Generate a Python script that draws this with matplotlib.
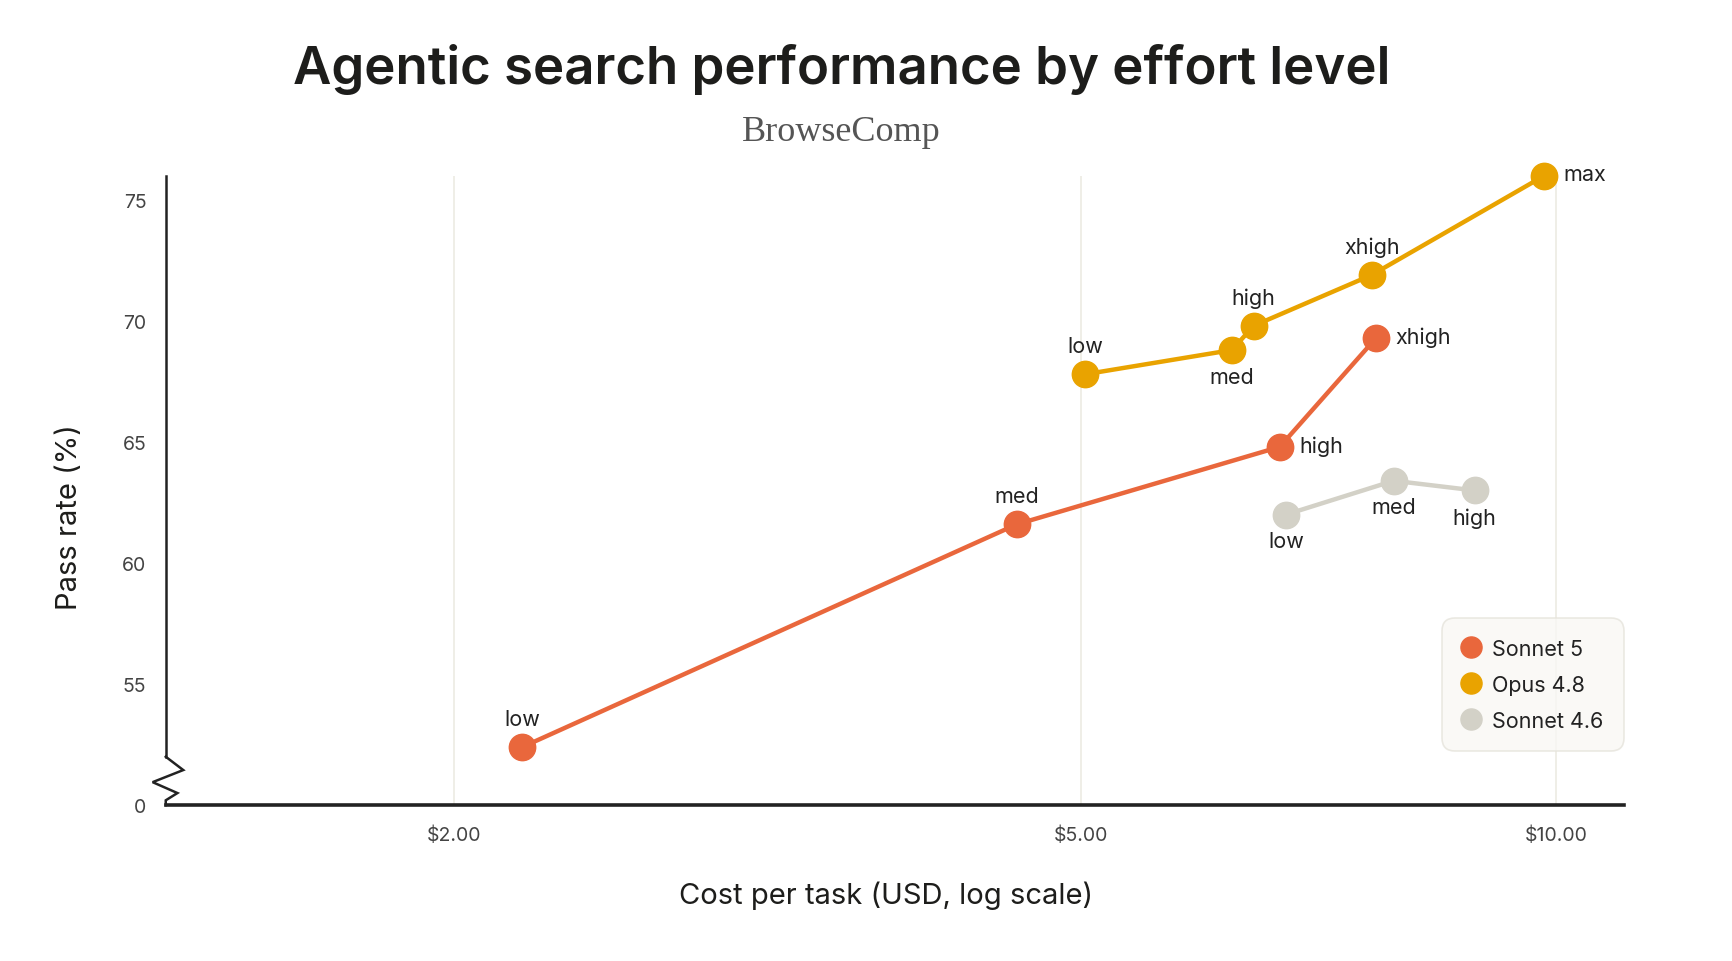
import matplotlib
matplotlib.use("Agg")
import matplotlib.pyplot as plt
from matplotlib.ticker import FixedLocator, NullLocator

plt.rcParams["font.family"] = ["Inter", "DejaVu Sans"]

# effort levels and readings (cost per task in USD, pass rate in %)
sonnet5_levels = ["low", "med", "high", "xhigh"]
sonnet5_cost = [2.21, 4.55, 6.68, 7.69]
sonnet5_pass = [52.4, 61.6, 64.8, 69.3]

opus48_levels = ["low", "med", "high", "xhigh", "max"]
opus48_cost = [5.03, 6.23, 6.43, 7.64, 9.83]
opus48_pass = [67.8, 68.8, 69.8, 71.9, 76.0]

sonnet46_levels = ["low", "med", "high"]
sonnet46_cost = [6.74, 7.89, 8.88]
sonnet46_pass = [62.0, 63.4, 63.0]

x_ticks = [2, 5, 10]
x_tick_labels = ["$2.00", "$5.00", "$10.00"]
y_ticks = [50, 55, 60, 65, 70, 75]
y_tick_labels = ["0", "55", "60", "65", "70", "75"]

C_SONNET5 = "#E9673C"
C_OPUS = "#E9A300"
C_SONNET46 = "#D3D1C7"
INK = "#1d1d1b"

# where each point label goes: "above", "below" or "right"
sonnet5_pos = ["above", "above", "right", "right"]
opus48_pos = ["above", "below", "above", "above", "right"]
sonnet46_pos = ["below", "below", "below"]

fig = plt.figure(figsize=(17.32, 9.62), dpi=100)
ax = fig.add_axes([0.0957, 0.162, 0.8418, 0.6543])

series = [
    ("Sonnet 5", sonnet5_cost, sonnet5_pass, sonnet5_levels, sonnet5_pos, C_SONNET5),
    ("Opus 4.8", opus48_cost, opus48_pass, opus48_levels, opus48_pos, C_OPUS),
    ("Sonnet 4.6", sonnet46_cost, sonnet46_pass, sonnet46_levels, sonnet46_pos, C_SONNET46),
]

for name, xs, ys, levels, pos, color in series:
    ax.plot(xs, ys, color=color, lw=3.2, marker="o", markersize=19,
            solid_capstyle="round", label=name, clip_on=False, zorder=3)
    for x, y, lab, where in zip(xs, ys, levels, pos):
        if where == "right":
            off, ha, va = (14, 1), "left", "center"
        elif where == "above":
            off, ha, va = (0, 13), "center", "bottom"
        else:
            off, ha, va = (0, -12), "center", "top"
        ax.annotate(lab, (x, y), xytext=off, textcoords="offset points",
                    ha=ha, va=va, fontsize=15.5, color="#222222", zorder=4)

ax.set_xscale("log")
ax.set_xlim(1.313, 11.04)
ax.set_ylim(50, 76)
ax.xaxis.set_major_locator(FixedLocator(x_ticks))
ax.xaxis.set_minor_locator(NullLocator())
ax.set_xticklabels(x_tick_labels)
ax.set_yticks(y_ticks)
ax.set_yticklabels(y_tick_labels)
ax.tick_params(axis="both", length=0, labelsize=14, labelcolor="#444444")
ax.tick_params(axis="x", pad=15)
ax.tick_params(axis="y", pad=14)

for gx in x_ticks:
    ax.axvline(gx, color="#ECEBE3", lw=1.2, zorder=0)

for s in ["top", "right", "left"]:
    ax.spines[s].set_visible(False)
ax.spines["bottom"].set_color("#222222")
ax.spines["bottom"].set_linewidth(2.6)
ax.spines["bottom"].set_zorder(5)

# left axis with a break mark near the bottom
tr = ax.get_yaxis_transform()
ax.plot([0, 0], [52.0, 76.0], color="#222222", lw=1.8, transform=tr, clip_on=False, zorder=5)
zig_x = [0, 0.012, -0.009, 0.008, 0, 0]
zig_y = [52.0, 51.45, 50.95, 50.5, 50.2, 50.0]
ax.plot(zig_x, zig_y, color="#222222", lw=1.8, transform=tr, clip_on=False,
        solid_joinstyle="miter", zorder=5)

ax.set_ylabel("Pass rate (%)", fontsize=21, color=INK)
ax.yaxis.set_label_coords(-0.057, 0.46)
ax.set_xlabel("Cost per task (USD, log scale)", fontsize=21, color=INK)
ax.xaxis.set_label_coords(0.494, -0.12)

leg = ax.legend(loc="upper right", bbox_to_anchor=(1.0, 0.297), borderaxespad=0,
                frameon=True, fontsize=15.5, handlelength=0.8, handletextpad=0.55,
                borderpad=0.95, labelspacing=0.75, markerscale=0.8)
for h in leg.get_lines():
    h.set_linestyle("none")
frame = leg.get_frame()
frame.set_facecolor("#F9F8F4")
frame.set_edgecolor("#E6E4DC")
frame.set_linewidth(1.2)
frame.set_boxstyle("round,pad=0,rounding_size=0.6")
for t in leg.get_texts():
    t.set_color("#222222")

fig.text(0.486, 0.928, "Agentic search performance by effort level",
         ha="center", va="center", fontsize=38, fontweight="semibold", color=INK)
fig.text(0.486, 0.862, "BrowseComp", ha="center", va="center", fontsize=26,
         family=["Liberation Serif", "DejaVu Serif"], color="#555555")

fig.savefig("out.png", dpi=100, facecolor="white")
